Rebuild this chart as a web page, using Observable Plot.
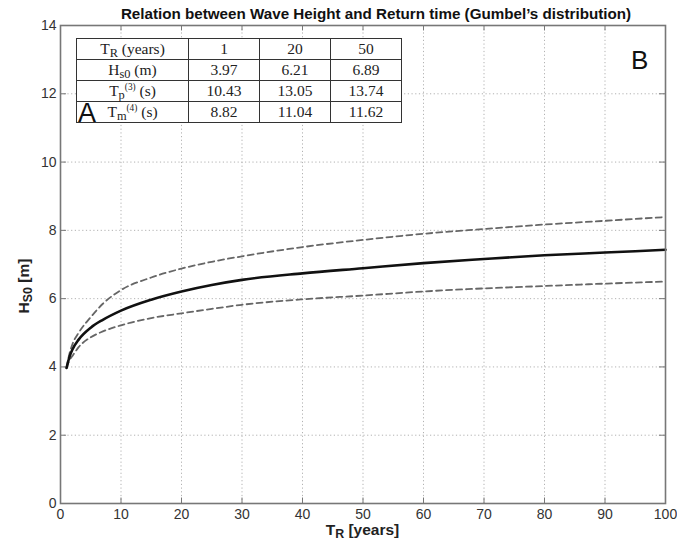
<!DOCTYPE html>
<html>
<head>
<meta charset="utf-8">
<script src="https://cdn.jsdelivr.net/npm/d3@7"></script>
<script src="https://cdn.jsdelivr.net/npm/@observablehq/plot@0.6"></script>
<style>
  html, body { margin: 0; padding: 0; background: #fff; }
  #wrap { position: relative; width: 677px; height: 549px; font-family: "Liberation Sans", Arial, sans-serif; }
  #wrap svg { position: absolute; left: 0; top: 0; }
  .ov { position: absolute; white-space: nowrap; }
  #title { left: 0; width: 752px; top: 5px; text-align: center; font-weight: bold; font-size: 15.2px; color: #111; }
  #xlab { left: 0; width: 725px; top: 521px; text-align: center; font-weight: bold; font-size: 15.5px; color: #222; }
  #ylab { left: 24px; top: 286px; transform: translate(-50%, -50%) rotate(-90deg); font-weight: bold; font-size: 15.5px; color: #222; }
  sub { font-size: 0.8em; vertical-align: -0.25em; line-height: 0; }
  sup { font-size: 0.6em; vertical-align: 0.6em; line-height: 0; }
  #tbl { left: 76px; top: 38px; border-collapse: collapse; font-family: "Liberation Serif", "Times New Roman", serif; font-size: 15.5px; color: #222; background: #fff; }
  #tbl td { border: 1.5px solid #333; height: 20px; padding: 0; text-align: center; line-height: 18px; }
  #tbl td.h { width: 111px; }
  #tbl td.v { width: 70px; }
  #A { left: 78px; top: 98px; font-size: 27px; color: #111; }
  #B { left: 631px; top: 45px; font-size: 26px; color: #111; }
</style>
</head>
<body>
<div id="wrap"></div>
<script>
// Return period (years) sampled along the curves
const returnPeriod = [1, 1.5, 2, 3, 5, 7, 10, 15, 20, 25, 30, 40, 50, 60, 70, 80, 90, 100];
// Central estimate of Hs0 (m)
const hsMean  = [3.97, 4.30, 4.52, 4.80, 5.15, 5.38, 5.65, 5.97, 6.21, 6.40, 6.55, 6.74, 6.89, 7.04, 7.16, 7.27, 7.35, 7.43];
// Upper confidence band
const hsUpper = [3.97, 4.40, 4.68, 5.00, 5.46, 5.85, 6.25, 6.62, 6.88, 7.08, 7.24, 7.51, 7.72, 7.90, 8.04, 8.17, 8.28, 8.39];
// Lower confidence band
const hsLower = [3.97, 4.20, 4.33, 4.58, 4.87, 5.04, 5.22, 5.43, 5.57, 5.70, 5.82, 5.98, 6.09, 6.21, 6.30, 6.37, 6.44, 6.50];

const xTicks = [0, 10, 20, 30, 40, 50, 60, 70, 80, 90, 100];
const yTicks = [0, 2, 4, 6, 8, 10, 12, 14];

// Inset table values
const tableTR = ["1", "20", "50"];
const tableHs = ["3.97", "6.21", "6.89"];
const tableTp = ["10.43", "13.05", "13.74"];
const tableTm = ["8.82", "11.04", "11.62"];

const rows = (ys, key) => returnPeriod.map((t, i) => ({t, h: ys[i], key}));
const mean = rows(hsMean, "mean");
const upper = rows(hsUpper, "upper");
const lower = rows(hsLower, "lower");

const tickLen = 0.16; // in y units (~5px)
const xTickLen = 1.0; // in x units (~6px)

const plot = Plot.plot({
  width: 677,
  height: 549,
  marginLeft: 60,
  marginRight: 12,
  marginTop: 25,
  marginBottom: 46,
  style: {fontFamily: "Liberation Sans, Arial, sans-serif", fontSize: "14px", color: "#333", background: "transparent"},
  x: {domain: [0, 100], ticks: xTicks, tickSize: 0, tickPadding: 6, label: null},
  y: {domain: [0, 14], ticks: yTicks, tickSize: 0, tickPadding: 4, label: null},
  marks: [
    Plot.gridX(xTicks, {stroke: "#aaa", strokeOpacity: 0.9, strokeDasharray: "1.2,2.5", strokeWidth: 1}),
    Plot.gridY(yTicks, {stroke: "#aaa", strokeOpacity: 0.9, strokeDasharray: "1.2,2.5", strokeWidth: 1}),
    Plot.ruleX(xTicks, {x: d => d, y1: 0, y2: tickLen, stroke: "#777"}),
    Plot.ruleX(xTicks, {x: d => d, y1: 14 - tickLen, y2: 14, stroke: "#777"}),
    Plot.ruleY(yTicks, {y: d => d, x1: 0, x2: xTickLen, stroke: "#777"}),
    Plot.ruleY(yTicks, {y: d => d, x1: 100 - xTickLen, x2: 100, stroke: "#777"}),
    Plot.line(upper, {x: "t", y: "h", curve: "monotone-x", stroke: "#666", strokeWidth: 1.8, strokeDasharray: "6,4"}),
    Plot.line(lower, {x: "t", y: "h", curve: "monotone-x", stroke: "#666", strokeWidth: 1.8, strokeDasharray: "6,4"}),
    Plot.line(mean, {x: "t", y: "h", curve: "monotone-x", stroke: "#111", strokeWidth: 2.6}),
    Plot.frame({stroke: "#777", strokeWidth: 1.6})
  ]
});

const wrap = document.getElementById("wrap");
wrap.appendChild(plot);

function add(html) { wrap.insertAdjacentHTML("beforeend", html); }
add(`<div id="title" class="ov">Relation between Wave Height and Return time (Gumbel’s distribution)</div>`);
add(`<div id="xlab" class="ov">T<sub>R</sub> [years]</div>`);
add(`<div id="ylab" class="ov">H<sub>S0</sub> [m]</div>`);

const cells = arr => arr.map(v => `<td class="v">${v}</td>`).join("");
add(`<table id="tbl" class="ov">
<tr><td class="h">T<sub>R</sub> (years)</td>${cells(tableTR)}</tr>
<tr><td class="h">H<sub>s0</sub> (m)</td>${cells(tableHs)}</tr>
<tr><td class="h">T<sub>p</sub><sup>(3)</sup> (s)</td>${cells(tableTp)}</tr>
<tr><td class="h">T<sub>m</sub><sup>(4)</sup> (s)</td>${cells(tableTm)}</tr>
</table>`);
add(`<div id="A" class="ov">A</div>`);
add(`<div id="B" class="ov">B</div>`);
</script>
</body>
</html>
